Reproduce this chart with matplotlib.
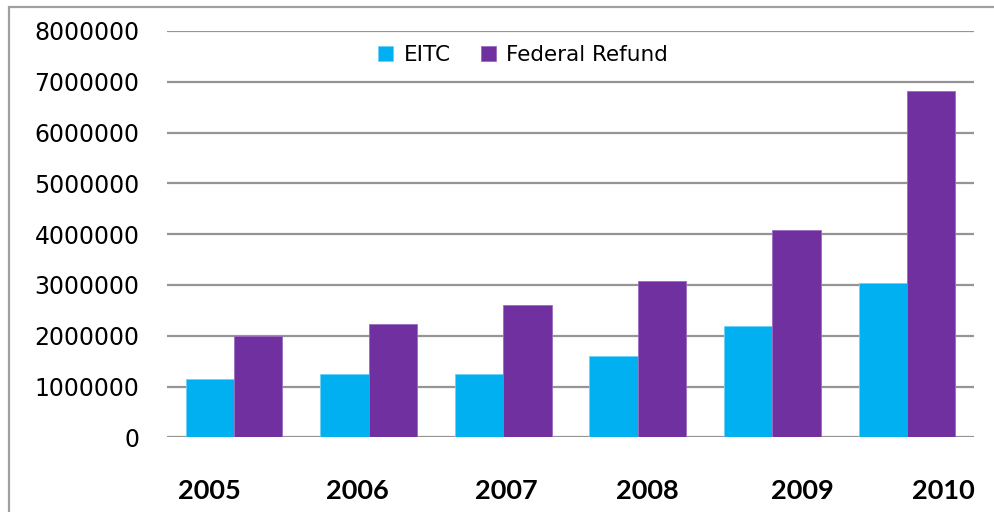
import matplotlib
matplotlib.use("Agg")
import matplotlib.pyplot as plt
import matplotlib.transforms as mtransforms
from matplotlib.patches import Rectangle
import numpy as np

years = ["2005", "2006", "2007", "2008", "2009", "2010"]
eitc = [1140000, 1240000, 1240000, 1610000, 2200000, 3030000]
federal = [2000000, 2240000, 2600000, 3070000, 4090000, 6820000]
yticks = [0, 1000000, 2000000, 3000000, 4000000, 5000000, 6000000, 7000000, 8000000]
label_shift_px = [-24.5, -10.7, 3.6, 9.1, 30.2, 36.0]

fig = plt.figure(figsize=(9.95, 5.12), dpi=100)
ax = fig.add_axes([0.1675, 0.1459, 0.8117, 0.7936])

x = np.arange(len(years))
w = 0.36
ax.bar(x - w / 2, eitc, w, color="#00B0F0", label="EITC", zorder=3,
       edgecolor="#6fd0f5", linewidth=0.6)
ax.bar(x + w / 2, federal, w, color="#7030A0", label="Federal Refund", zorder=3,
       edgecolor="#9a6cc0", linewidth=0.6)

ax.set_xlim(-0.5, len(years) - 0.5)
ax.set_ylim(0, 8000000)
ax.set_yticks(yticks)
ax.set_yticklabels([str(v) for v in yticks], fontsize=17, family="DejaVu Sans")
ax.yaxis.grid(True, color="#959595", linewidth=1.6, zorder=0)
ax.set_axisbelow(True)
for s in ax.spines.values():
    s.set_visible(False)
ax.tick_params(axis="y", length=0, pad=19.5)
ax.set_xticks(x)
ax.set_xticklabels(years, fontsize=19.5, fontweight="bold", family="Lato")
ax.tick_params(axis="x", length=0, pad=30)
for lab, dx in zip(ax.get_xticklabels(), label_shift_px):
    lab.set_transform(lab.get_transform() + mtransforms.ScaledTranslation(dx / 100, 0, fig.dpi_scale_trans))

leg = fig.legend(loc="center", bbox_to_anchor=(523 / 995, 1 - 55 / 512), ncol=2, frameon=False,
                 prop={"family": "DejaVu Sans", "size": 15.5}, handlelength=0.7, handleheight=0.7,
                 handletextpad=0.5, columnspacing=1.4)

fig.patches.append(Rectangle((9 / 995, -0.05), 1.1, 1 - 7 / 512 + 0.05, transform=fig.transFigure,
                             fill=False, edgecolor="#a0a0a0", linewidth=1.6))

fig.savefig("out.png", dpi=100)
